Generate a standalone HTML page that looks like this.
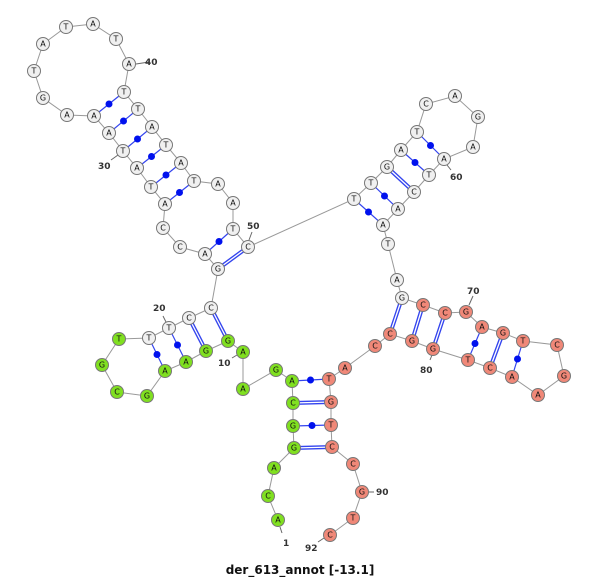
<!DOCTYPE html>
<html><head><meta charset="utf-8"><style>
html,body{margin:0;padding:0;background:#fff;}
svg{display:block;}
.n circle{stroke:#777;stroke-width:1;}
.w{fill:#f0f0f0}.g{fill:#80e020}.r{fill:#f08878}
text{font-family:"DejaVu Sans","Liberation Sans",sans-serif;}
.n text{font-size:8px;text-anchor:middle;dominant-baseline:central;fill:#111}
.lb{font-family:"DejaVu Serif","Liberation Serif",serif;font-size:9px;font-weight:bold;fill:#333}
</style></head><body>
<svg width="600" height="578" viewBox="0 0 600 578" xmlns="http://www.w3.org/2000/svg">
<polyline fill="none" stroke="#999" stroke-width="1" points="278,520 268,496 274,468 294,448 293,426 293,403 292,381 276,370 243,389 243,352 228,341 206,351 186,362 165,371 147,396 117,392 102,365 119,339 149,338 169,328 189,318 211,308 218,269 205,254 180,247 163,228 165,204 151,187 137,168 123,151 109,133 94,116 67,115 43,98 34,71 43,44 66,27 93,24 116,39 129,64 124,92 138,109 152,127 166,145 181,163 194,181 218,184 233,203 233,229 248,247 354,199 371,183 387,167 401,150 417,132 426,104 455,96 478,117 473,147 444,159 429,175 414,192 398,209 383,225 388,244 397,280 402,298 423,305 445,313 466,312 482,327 503,333 523,341 557,345 564,376 538,395 512,377 490,368 468,360 433,349 412,341 390,334 375,346 345,368 329,379 331,402 331,425 332,447 353,464 362,492 353,518 330,535"/>
<g stroke="#666" stroke-width="1">
<line x1="149" y1="62" x2="136" y2="64"/><line x1="111" y1="160" x2="118" y2="155"/>
<line x1="252" y1="232" x2="249" y2="240"/><line x1="451" y1="170" x2="447" y2="165"/>
<line x1="473" y1="296" x2="469" y2="305"/><line x1="430" y1="360" x2="432" y2="355"/>
<line x1="374" y1="492" x2="369" y2="492"/><line x1="282" y1="533" x2="280" y2="527"/>
<line x1="318" y1="542" x2="324" y2="538"/><line x1="232" y1="358" x2="237" y2="355"/>
<line x1="163" y1="316" x2="166" y2="322"/>
</g>
<!-- double pairs -->
<g stroke="#3344ee" stroke-width="4">
<line x1="294" y1="448" x2="332" y2="447"/><line x1="293" y1="403" x2="331" y2="402"/>
<line x1="228" y1="341" x2="211" y2="308"/><line x1="206" y1="351" x2="189" y2="318"/>
<line x1="218" y1="269" x2="248" y2="247"/><line x1="387" y1="167" x2="414" y2="192"/>
<line x1="402" y1="298" x2="390" y2="334"/><line x1="423" y1="305" x2="412" y2="341"/>
<line x1="445" y1="313" x2="433" y2="349"/><line x1="503" y1="333" x2="490" y2="368"/>
</g>
<g stroke="#fff" stroke-width="1.3">
<line x1="294" y1="448" x2="332" y2="447"/><line x1="293" y1="403" x2="331" y2="402"/>
<line x1="228" y1="341" x2="211" y2="308"/><line x1="206" y1="351" x2="189" y2="318"/>
<line x1="218" y1="269" x2="248" y2="247"/><line x1="387" y1="167" x2="414" y2="192"/>
<line x1="402" y1="298" x2="390" y2="334"/><line x1="423" y1="305" x2="412" y2="341"/>
<line x1="445" y1="313" x2="433" y2="349"/><line x1="503" y1="333" x2="490" y2="368"/>
</g>
<!-- dot pairs -->
<g stroke="#3344ee" stroke-width="1.2">
<line x1="293" y1="426" x2="331" y2="425"/><line x1="292" y1="381" x2="329" y2="379"/>
<line x1="186" y1="362" x2="169" y2="328"/><line x1="165" y1="371" x2="149" y2="338"/>
<line x1="205" y1="254" x2="233" y2="229"/><line x1="165" y1="204" x2="194" y2="181"/>
<line x1="151" y1="187" x2="181" y2="163"/><line x1="137" y1="168" x2="166" y2="145"/>
<line x1="123" y1="151" x2="152" y2="127"/><line x1="109" y1="133" x2="138" y2="109"/>
<line x1="94" y1="116" x2="124" y2="92"/><line x1="354" y1="199" x2="383" y2="225"/>
<line x1="371" y1="183" x2="398" y2="209"/><line x1="401" y1="150" x2="429" y2="175"/>
<line x1="417" y1="132" x2="444" y2="159"/><line x1="482" y1="327" x2="468" y2="360"/>
<line x1="523" y1="341" x2="512" y2="377"/>
</g>
<g fill="#0011ee">
<circle cx="312" cy="425.5" r="3.5"/><circle cx="310.5" cy="380" r="3.5"/>
<circle cx="177.5" cy="345" r="3.5"/><circle cx="157" cy="354.5" r="3.5"/>
<circle cx="219" cy="241.5" r="3.5"/><circle cx="179.5" cy="192.5" r="3.5"/>
<circle cx="166" cy="175" r="3.5"/><circle cx="151.5" cy="156.5" r="3.5"/>
<circle cx="137.5" cy="139" r="3.5"/><circle cx="123.5" cy="121" r="3.5"/>
<circle cx="109" cy="104" r="3.5"/><circle cx="368.5" cy="212" r="3.5"/>
<circle cx="384.5" cy="196" r="3.5"/><circle cx="415" cy="162.5" r="3.5"/>
<circle cx="430.5" cy="145.5" r="3.5"/><circle cx="475" cy="343.5" r="3.5"/>
<circle cx="517.5" cy="359" r="3.5"/>
</g>
<g class="n">
<circle class="g" cx="278" cy="520" r="6.5"/><text x="278" y="520">A</text>
<circle class="g" cx="268" cy="496" r="6.5"/><text x="268" y="496">C</text>
<circle class="g" cx="274" cy="468" r="6.5"/><text x="274" y="468">A</text>
<circle class="g" cx="294" cy="448" r="6.5"/><text x="294" y="448">G</text>
<circle class="g" cx="293" cy="426" r="6.5"/><text x="293" y="426">G</text>
<circle class="g" cx="293" cy="403" r="6.5"/><text x="293" y="403">C</text>
<circle class="g" cx="292" cy="381" r="6.5"/><text x="292" y="381">A</text>
<circle class="g" cx="276" cy="370" r="6.5"/><text x="276" y="370">G</text>
<circle class="g" cx="243" cy="389" r="6.5"/><text x="243" y="389">A</text>
<circle class="g" cx="243" cy="352" r="6.5"/><text x="243" y="352">A</text>
<circle class="g" cx="228" cy="341" r="6.5"/><text x="228" y="341">G</text>
<circle class="g" cx="206" cy="351" r="6.5"/><text x="206" y="351">G</text>
<circle class="g" cx="186" cy="362" r="6.5"/><text x="186" y="362">A</text>
<circle class="g" cx="165" cy="371" r="6.5"/><text x="165" y="371">A</text>
<circle class="g" cx="147" cy="396" r="6.5"/><text x="147" y="396">G</text>
<circle class="g" cx="117" cy="392" r="6.5"/><text x="117" y="392">C</text>
<circle class="g" cx="102" cy="365" r="6.5"/><text x="102" y="365">G</text>
<circle class="g" cx="119" cy="339" r="6.5"/><text x="119" y="339">T</text>
<circle class="w" cx="149" cy="338" r="6.5"/><text x="149" y="338">T</text>
<circle class="w" cx="169" cy="328" r="6.5"/><text x="169" y="328">T</text>
<circle class="w" cx="189" cy="318" r="6.5"/><text x="189" y="318">C</text>
<circle class="w" cx="211" cy="308" r="6.5"/><text x="211" y="308">C</text>
<circle class="w" cx="218" cy="269" r="6.5"/><text x="218" y="269">G</text>
<circle class="w" cx="205" cy="254" r="6.5"/><text x="205" y="254">A</text>
<circle class="w" cx="180" cy="247" r="6.5"/><text x="180" y="247">C</text>
<circle class="w" cx="163" cy="228" r="6.5"/><text x="163" y="228">C</text>
<circle class="w" cx="165" cy="204" r="6.5"/><text x="165" y="204">A</text>
<circle class="w" cx="151" cy="187" r="6.5"/><text x="151" y="187">T</text>
<circle class="w" cx="137" cy="168" r="6.5"/><text x="137" y="168">A</text>
<circle class="w" cx="123" cy="151" r="6.5"/><text x="123" y="151">T</text>
<circle class="w" cx="109" cy="133" r="6.5"/><text x="109" y="133">A</text>
<circle class="w" cx="94" cy="116" r="6.5"/><text x="94" y="116">A</text>
<circle class="w" cx="67" cy="115" r="6.5"/><text x="67" y="115">A</text>
<circle class="w" cx="43" cy="98" r="6.5"/><text x="43" y="98">G</text>
<circle class="w" cx="34" cy="71" r="6.5"/><text x="34" y="71">T</text>
<circle class="w" cx="43" cy="44" r="6.5"/><text x="43" y="44">A</text>
<circle class="w" cx="66" cy="27" r="6.5"/><text x="66" y="27">T</text>
<circle class="w" cx="93" cy="24" r="6.5"/><text x="93" y="24">A</text>
<circle class="w" cx="116" cy="39" r="6.5"/><text x="116" y="39">T</text>
<circle class="w" cx="129" cy="64" r="6.5"/><text x="129" y="64">A</text>
<circle class="w" cx="124" cy="92" r="6.5"/><text x="124" y="92">T</text>
<circle class="w" cx="138" cy="109" r="6.5"/><text x="138" y="109">T</text>
<circle class="w" cx="152" cy="127" r="6.5"/><text x="152" y="127">A</text>
<circle class="w" cx="166" cy="145" r="6.5"/><text x="166" y="145">T</text>
<circle class="w" cx="181" cy="163" r="6.5"/><text x="181" y="163">A</text>
<circle class="w" cx="194" cy="181" r="6.5"/><text x="194" y="181">T</text>
<circle class="w" cx="218" cy="184" r="6.5"/><text x="218" y="184">A</text>
<circle class="w" cx="233" cy="203" r="6.5"/><text x="233" y="203">A</text>
<circle class="w" cx="233" cy="229" r="6.5"/><text x="233" y="229">T</text>
<circle class="w" cx="248" cy="247" r="6.5"/><text x="248" y="247">C</text>
<circle class="w" cx="354" cy="199" r="6.5"/><text x="354" y="199">T</text>
<circle class="w" cx="371" cy="183" r="6.5"/><text x="371" y="183">T</text>
<circle class="w" cx="387" cy="167" r="6.5"/><text x="387" y="167">G</text>
<circle class="w" cx="401" cy="150" r="6.5"/><text x="401" y="150">A</text>
<circle class="w" cx="417" cy="132" r="6.5"/><text x="417" y="132">T</text>
<circle class="w" cx="426" cy="104" r="6.5"/><text x="426" y="104">C</text>
<circle class="w" cx="455" cy="96" r="6.5"/><text x="455" y="96">A</text>
<circle class="w" cx="478" cy="117" r="6.5"/><text x="478" y="117">G</text>
<circle class="w" cx="473" cy="147" r="6.5"/><text x="473" y="147">A</text>
<circle class="w" cx="444" cy="159" r="6.5"/><text x="444" y="159">A</text>
<circle class="w" cx="429" cy="175" r="6.5"/><text x="429" y="175">T</text>
<circle class="w" cx="414" cy="192" r="6.5"/><text x="414" y="192">C</text>
<circle class="w" cx="398" cy="209" r="6.5"/><text x="398" y="209">A</text>
<circle class="w" cx="383" cy="225" r="6.5"/><text x="383" y="225">A</text>
<circle class="w" cx="388" cy="244" r="6.5"/><text x="388" y="244">T</text>
<circle class="w" cx="397" cy="280" r="6.5"/><text x="397" y="280">A</text>
<circle class="w" cx="402" cy="298" r="6.5"/><text x="402" y="298">G</text>
<circle class="r" cx="423" cy="305" r="6.5"/><text x="423" y="305">C</text>
<circle class="r" cx="445" cy="313" r="6.5"/><text x="445" y="313">C</text>
<circle class="r" cx="466" cy="312" r="6.5"/><text x="466" y="312">G</text>
<circle class="r" cx="482" cy="327" r="6.5"/><text x="482" y="327">A</text>
<circle class="r" cx="503" cy="333" r="6.5"/><text x="503" y="333">G</text>
<circle class="r" cx="523" cy="341" r="6.5"/><text x="523" y="341">T</text>
<circle class="r" cx="557" cy="345" r="6.5"/><text x="557" y="345">C</text>
<circle class="r" cx="564" cy="376" r="6.5"/><text x="564" y="376">G</text>
<circle class="r" cx="538" cy="395" r="6.5"/><text x="538" y="395">A</text>
<circle class="r" cx="512" cy="377" r="6.5"/><text x="512" y="377">A</text>
<circle class="r" cx="490" cy="368" r="6.5"/><text x="490" y="368">C</text>
<circle class="r" cx="468" cy="360" r="6.5"/><text x="468" y="360">T</text>
<circle class="r" cx="433" cy="349" r="6.5"/><text x="433" y="349">G</text>
<circle class="r" cx="412" cy="341" r="6.5"/><text x="412" y="341">G</text>
<circle class="r" cx="390" cy="334" r="6.5"/><text x="390" y="334">C</text>
<circle class="r" cx="375" cy="346" r="6.5"/><text x="375" y="346">C</text>
<circle class="r" cx="345" cy="368" r="6.5"/><text x="345" y="368">A</text>
<circle class="r" cx="329" cy="379" r="6.5"/><text x="329" y="379">T</text>
<circle class="r" cx="331" cy="402" r="6.5"/><text x="331" y="402">G</text>
<circle class="r" cx="331" cy="425" r="6.5"/><text x="331" y="425">T</text>
<circle class="r" cx="332" cy="447" r="6.5"/><text x="332" y="447">C</text>
<circle class="r" cx="353" cy="464" r="6.5"/><text x="353" y="464">C</text>
<circle class="r" cx="362" cy="492" r="6.5"/><text x="362" y="492">G</text>
<circle class="r" cx="353" cy="518" r="6.5"/><text x="353" y="518">T</text>
<circle class="r" cx="330" cy="535" r="6.5"/><text x="330" y="535">C</text>
</g>
<g class="lb">
<text x="145" y="65">40</text><text x="98" y="169">30</text>
<text x="247" y="229">50</text><text x="450" y="180">60</text>
<text x="467" y="294">70</text><text x="420" y="373">80</text>
<text x="376" y="495">90</text><text x="283" y="546">1</text>
<text x="305" y="551">92</text><text x="218" y="366">10</text>
<text x="153" y="311">20</text>
</g>
<text x="300" y="574" text-anchor="middle" style="font-size:12px;font-weight:bold;fill:#111">der_613_annot [-13.1]</text>
</svg>
</body></html>
